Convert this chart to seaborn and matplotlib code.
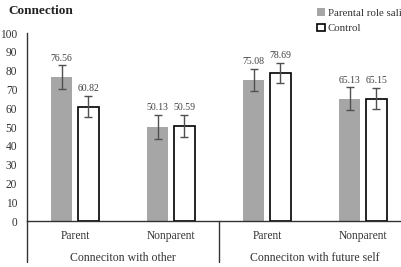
import matplotlib
matplotlib.use("Agg")
import matplotlib.pyplot as plt
import matplotlib.transforms as mtransforms
from matplotlib.patches import Patch
import pandas as pd
import seaborn as sns

# Data
cat_ids = ["other_parent", "other_nonparent", "future_parent", "future_nonparent"]
tick_labels = ["Parent", "Nonparent", "Parent", "Nonparent"]
group_labels = ["Conneciton with other", "Conneciton with future self"]
conditions = ["Parental role sali", "Control"]
salience_means = [76.56, 50.13, 75.08, 65.13]
control_means = [60.82, 50.59, 78.69, 65.15]
salience_err = [6.2, 6.3, 6.0, 5.9]
control_err = [5.6, 6.0, 5.5, 5.8]

GRAY = "#a6a6a6"
DARK = "#333333"

df = pd.DataFrame({
    "cat": cat_ids * 2,
    "mean": salience_means + control_means,
    "err": salience_err + control_err,
    "condition": [conditions[0]] * 4 + [conditions[1]] * 4,
})

sns.set_style("white")
plt.rcParams["font.family"] = ["Liberation Serif", "DejaVu Serif"]

fig = plt.figure(figsize=(4.01, 2.67), dpi=100)
ax = fig.add_axes([27 / 401, 1 - 221 / 267, 384 / 401, 188 / 267])

sns.barplot(
    data=df, x="cat", y="mean", hue="condition",
    order=cat_ids, hue_order=conditions,
    palette=[GRAY, "white"], saturation=1,
    width=0.56, gap=0.22, errorbar=None, ax=ax,
)
ax.get_legend().remove()

# error bars + value labels
for container, cond in zip(ax.containers, conditions):
    sub = df[df["condition"] == cond].set_index("cat").loc[cat_ids]
    for bar, (_, row) in zip(container, sub.iterrows()):
        if cond == "Control":
            bar.set_edgecolor("black")
            bar.set_linewidth(1.2)
        else:
            bar.set_edgecolor("none")
        x = bar.get_x() + bar.get_width() / 2
        h = bar.get_height()
        ax.errorbar(x, h, yerr=row["err"], fmt="none", ecolor="#505050",
                    elinewidth=1, capsize=3, capthick=1, zorder=5)
        ax.annotate(f"{h:.2f}", (x, h + row["err"]), xytext=(0, 2),
                    textcoords="offset points", ha="center", va="bottom",
                    fontsize=7, color="#404040")

ax.set_xlim(-0.5, 3.5)
ax.set_ylim(0, 100)
ax.set_yticks(range(0, 101, 10))
ax.set_xticks(range(len(cat_ids)))
ax.set_xticklabels(tick_labels)
ax.tick_params(axis="both", length=0, labelsize=8.3, colors=DARK)
ax.tick_params(axis="x", pad=6.5)
ax.tick_params(axis="y", pad=7)
ax.set_xlabel("")
ax.set_ylabel("")

sns.despine(ax=ax, top=True, right=True)
for side in ["left", "bottom"]:
    ax.spines[side].set_color(DARK)
    ax.spines[side].set_linewidth(1)

# group separators and group labels
trans = mtransforms.blended_transform_factory(ax.transData, ax.transAxes)
for xs in [-0.5, 1.5]:
    ax.plot([xs, xs], [0, -0.22], transform=trans, clip_on=False,
            color=DARK, lw=1)
for gx, lab in zip([0.5, 2.5], group_labels):
    ax.text(gx, -0.195, lab, transform=trans, ha="center", va="center",
            fontsize=8.5, color=DARK)

fig.text(8 / 401, 1 - 11 / 267, "Connection", fontsize=9.5,
         fontweight="bold", va="center", ha="left", color="#222222")

handles = [Patch(facecolor=GRAY, edgecolor="none"),
           Patch(facecolor="white", edgecolor="black", linewidth=1.2)]
fig.legend(handles, conditions, loc="upper left",
           bbox_to_anchor=(317 / 401, 1 - 8 / 267), frameon=False,
           fontsize=7.8, handlelength=0.7, handleheight=0.7,
           handletextpad=0.3, labelspacing=0.55, borderpad=0,
           borderaxespad=0, labelcolor=DARK)

fig.savefig("out.png", dpi=100)
